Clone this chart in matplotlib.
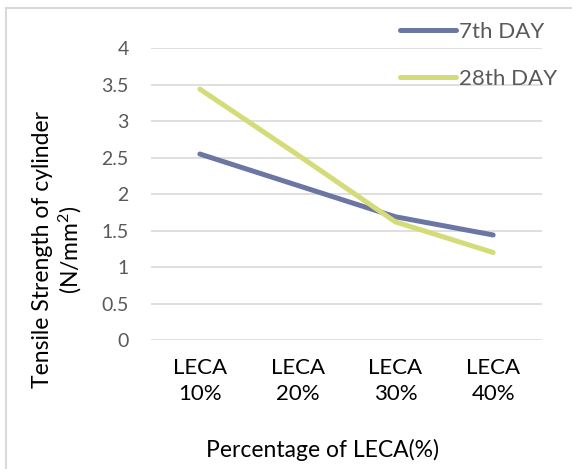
import matplotlib
matplotlib.use('Agg')
import matplotlib.pyplot as plt
from matplotlib.lines import Line2D

# 数据
categories = ['LECA\n10%', 'LECA\n20%', 'LECA\n30%', 'LECA\n40%']
day7 = [2.55, 2.12, 1.69, 1.44]
day28 = [3.44, 2.54, 1.62, 1.20]
yticks = [0, 0.5, 1, 1.5, 2, 2.5, 3, 3.5, 4]
ytick_labels = ['0', '0.5', '1', '1.5', '2', '2.5', '3', '3.5', '4']

plt.rcParams['font.family'] = ['Lato', 'DejaVu Sans']
plt.rcParams['mathtext.fontset'] = 'custom'
plt.rcParams['mathtext.rm'] = 'Lato'
plt.rcParams['mathtext.it'] = 'Lato'

W, H = 572, 469
fig = plt.figure(figsize=(W / 100, H / 100), dpi=100)
ax = fig.add_axes([151 / W, 1 - 340 / H, (542 - 151) / W, (340 - 48.3) / H])

x = range(len(categories))
ax.plot(x, day7, color='#6b76a3', lw=3.6, solid_capstyle='round', label='7th DAY', zorder=3)
ax.plot(x, day28, color='#d3dc78', lw=3.6, solid_capstyle='round', label='28th DAY', zorder=3)

ax.set_xlim(-0.5, 3.5)
ax.set_ylim(0, 4)
ax.set_yticks(yticks)
ax.set_yticklabels(ytick_labels)
ax.set_xticks(list(x))
ax.set_xticklabels(categories, linespacing=1.35)
ax.grid(axis='y', color='#d9d9d9', lw=1.2)
ax.set_axisbelow(True)
for s in ax.spines.values():
    s.set_visible(False)
ax.tick_params(axis='y', length=0, pad=16, labelsize=14, labelcolor='#595959')
ax.tick_params(axis='x', length=0, pad=13, labelsize=16, labelcolor='#000000')

fig.text(322 / W, 1 - 450 / H, 'Percentage of LECA(%)', ha='center', va='center', fontsize=16.5)
fig.text(58 / W, 1 - 250 / H, 'Tensile Strength of cylinder\n(N/mm$^2$)', ha='center', va='center',
         rotation=90, fontsize=16.5, linespacing=1.15, multialignment='center')

leg = ax.legend(loc='upper left', bbox_to_anchor=(400 / W, 1 - 22 / H), bbox_transform=fig.transFigure,
                frameon=False, fontsize=16, handlelength=2.5, handletextpad=0.15,
                labelspacing=1.2, borderpad=0, borderaxespad=0)
for t in leg.get_texts():
    t.set_color('#595959')

# 外框
fig.add_artist(Line2D([6 / W, 1], [1 - 8 / H, 1 - 8 / H], transform=fig.transFigure, color='#d9d9d9', lw=1.5))
fig.add_artist(Line2D([6 / W, 6 / W], [0, 1 - 8 / H], transform=fig.transFigure, color='#d9d9d9', lw=1.5))

fig.savefig('out.png', dpi=100)
